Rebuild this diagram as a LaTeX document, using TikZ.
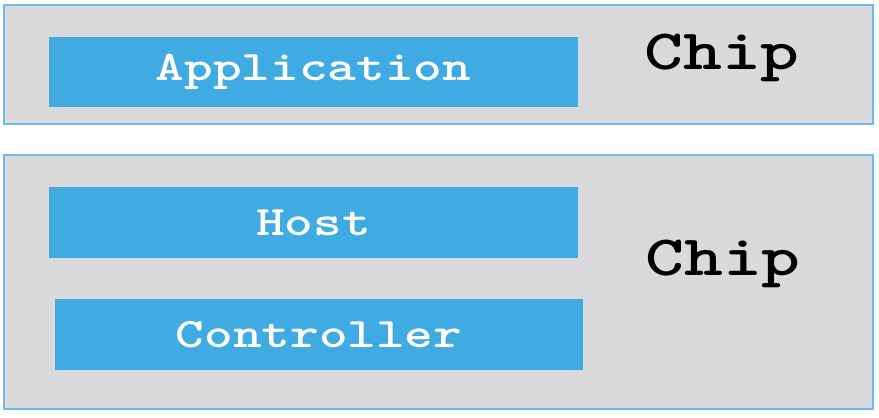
\documentclass[tikz,border=0pt]{standalone}
\usepackage{xcolor}
\usepackage{graphicx}
\usepackage{tikz}
\usetikzlibrary{shapes,arrows}

\definecolor{chipgray}{RGB}{218,218,220}
\definecolor{chipline}{RGB}{110,185,235}
\definecolor{layerblue}{RGB}{64,170,226}
\newcommand{\wide}[1]{\scalebox{1.3}[1]{#1}}

\begin{document}
\begin{tikzpicture}[x=1pt,y=-1pt]
\tikzstyle{chipbox}=[draw=chipline,line width=1.2pt,fill=chipgray,inner sep=0pt];
\tikzstyle{layer}=[fill=layerblue,inner sep=0pt,text=white,font=\fontsize{42}{46}\ttfamily\bfseries];
\tikzstyle{chiplabel}=[anchor=base,font=\fontsize{57}{60}\ttfamily\bfseries];

\useasboundingbox[fill=white] (0,0) rectangle (879,418);

\node[chipbox,minimum width=869pt,minimum height=119pt] (top) at (438.5,64.5) {};
\node[chipbox,minimum width=869pt,minimum height=254pt] (bottom) at (438.5,282) {};

\node[layer,minimum width=529pt,minimum height=70pt] (app) at (313.5,72) {\wide{Application}};
\node[chiplabel] (chip1) at (722,69) {\wide{Chip}};

\node[layer,minimum width=529pt,minimum height=71pt] (host) at (313.5,222.5) {\wide{Host}};
\node[layer,minimum width=528pt,minimum height=71pt] (ctrl) at (319,334.5) {\wide{Controller}};
\node[chiplabel] (chip2) at (723,275) {\wide{Chip}};
\end{tikzpicture}
\end{document}
